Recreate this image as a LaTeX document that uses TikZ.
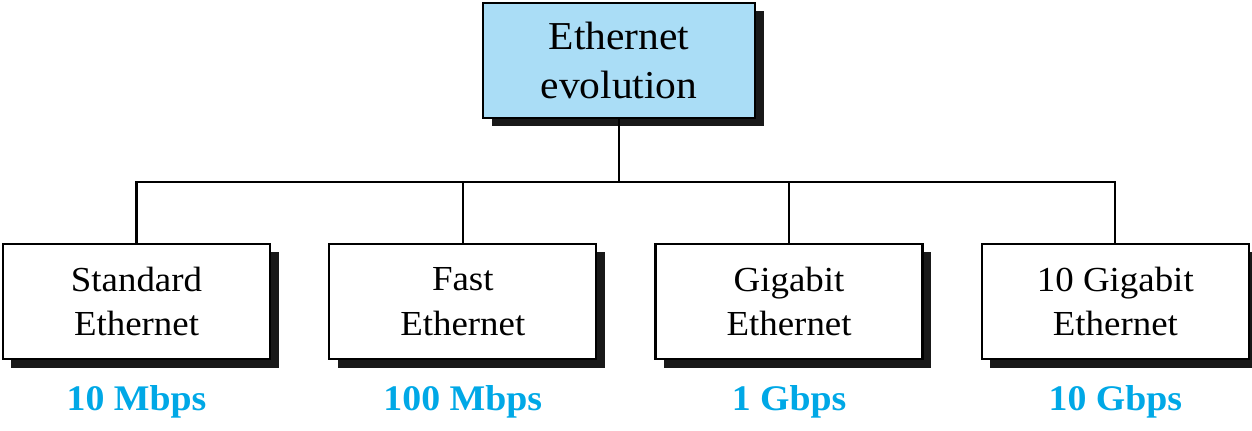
\documentclass[tikz,border=0pt]{standalone}
\usepackage{fontspec}
\setmainfont{Liberation Serif}[FakeStretch=1.05]
\usetikzlibrary{positioning,shadows}
\definecolor{evoblue}{RGB}{170,221,246}
\definecolor{ratecyan}{RGB}{0,168,230}
\tikzset{
  kind/.style={draw=black, line width=1.3pt, fill=white, align=center,
    minimum width=5.34cm, minimum height=2.3cm, inner sep=0pt,
    font=\fontsize{20}{25.5}\selectfont,
    drop shadow={shadow xshift=0.17cm, shadow yshift=-0.17cm, fill=black!90, opacity=1}},
  rate/.style={text=ratecyan, inner sep=0pt, font=\fontsize{20.5}{22}\selectfont\bfseries},
  link/.style={line width=1.2pt}
}
\begin{document}
\begin{tikzpicture}[line cap=rect]
  \useasboundingbox (0,0) rectangle (25.04,8.6);
  \node[kind, fill=evoblue, minimum width=5.44cm, font=\fontsize{22.5}{28.3}\selectfont]
    (evo) at (12.38,7.39) {Ethernet\\evolution};
  \node[kind] (std) at (2.73,2.57) {Standard\\Ethernet};
  \node[kind, right=1.14cm of std] (fast) {Fast\\Ethernet};
  \node[kind, right=1.14cm of fast] (giga) {Gigabit\\Ethernet};
  \node[kind, right=1.14cm of giga] (tengig) {10 Gigabit\\Ethernet};
  \coordinate (bus) at (0,4.96);
  % tree connectors
  \draw[link] (evo.south) -- (evo.south |- bus);
  \draw[link] (std.north) -- (std.north |- bus) -- (tengig.north |- bus) -- (tengig.north);
  \foreach \n in {fast,giga}
    \draw[link] (\n.north) -- (\n.north |- bus);
  % data rates
  \node[rate, below=0.5cm of std] (r1) {10 Mbps};
  \node[rate, below=0.5cm of fast] (r2) {100 Mbps};
  \node[rate, below=0.5cm of giga] (r3) {1 Gbps};
  \node[rate, below=0.5cm of tengig] (r4) {10 Gbps};
\end{tikzpicture}
\end{document}
